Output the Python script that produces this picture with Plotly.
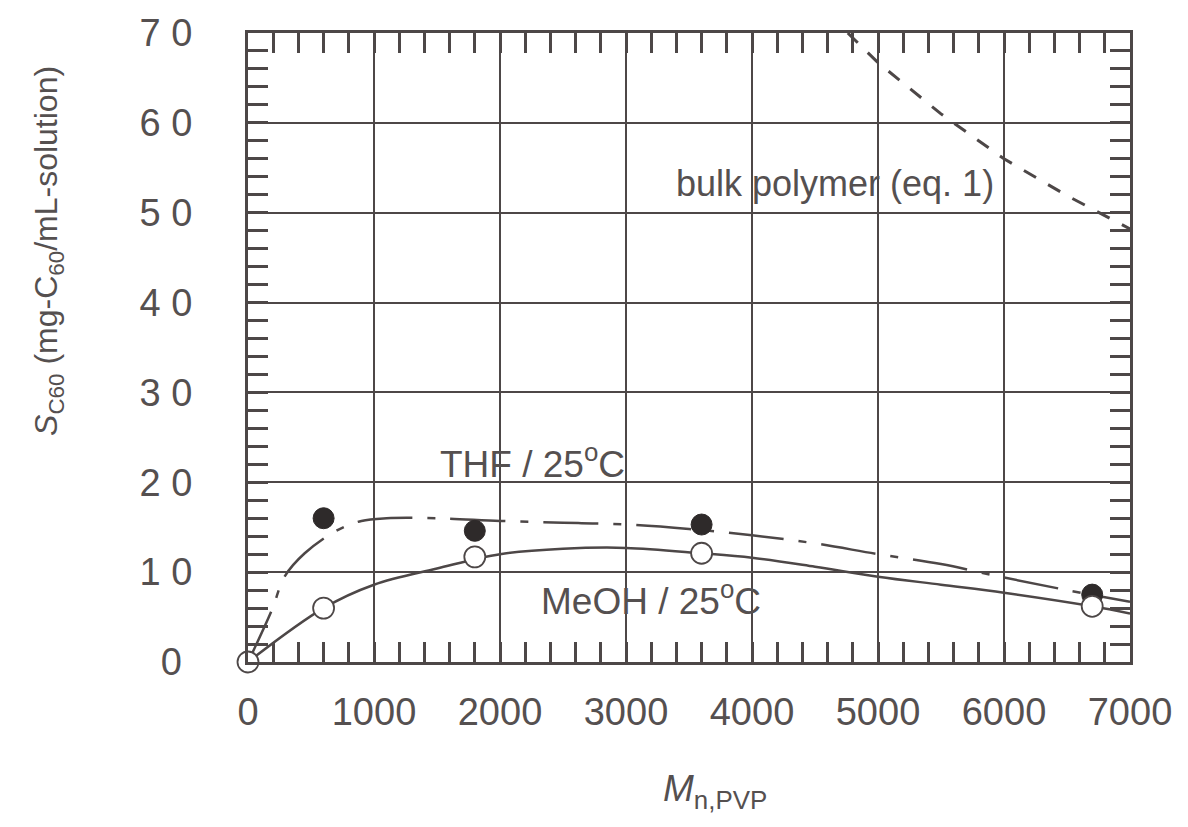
import plotly.graph_objects as go

# measured points
mn_pvp = [0, 600, 1800, 3600, 6700]
s_thf = [None, 16.0, 14.6, 15.3, 7.5]
s_meoh = [0, 6.0, 11.7, 12.1, 6.2]

# hand-drawn guide curves
meoh_curve_x = [0, 600, 1000, 1500, 2000, 2500, 3000, 3600, 4000, 4500, 5000, 5500, 6000, 6700, 7000]
meoh_curve_y = [0, 6.0, 8.6, 10.4, 12.0, 12.6, 12.7, 12.1, 11.6, 10.6, 9.5, 8.6, 7.7, 6.2, 5.4]

thf_curve_x = [0, 190, 290, 450, 700, 900, 1100, 1500, 2000, 2500, 3000, 3500, 4000, 4500, 5000, 5500, 6000, 6500, 7000]
thf_curve_y = [0, 5.8, 9.5, 12.1, 14.6, 15.7, 16.0, 16.0, 15.7, 15.5, 15.3, 14.8, 14.1, 13.2, 12.0, 10.9, 9.4, 8.0, 6.7]

bulk_x = [4760, 5000, 5500, 6000, 6500, 7000]
bulk_y = [70.0, 66.7, 61.0, 56.0, 51.9, 48.2]

y_ticks = [0, 10, 20, 30, 40, 50, 60, 70]
y_ticktext = ["0\u00a0", "1 0", "2 0", "3 0", "4 0", "5 0", "6 0", "7 0"]
x_ticks = [0, 1000, 2000, 3000, 4000, 5000, 6000, 7000]

INK = "#4d4747"
TXT = "#555050"
FONT = "Liberation Sans, Arial, sans-serif"

fig = go.Figure()

fig.add_trace(go.Scatter(
    x=bulk_x, y=bulk_y, mode="lines",
    line=dict(color=INK, width=3, dash="14px,14px"),
    showlegend=False,
))
fig.add_trace(go.Scatter(
    x=thf_curve_x, y=thf_curve_y, mode="lines",
    line=dict(color=INK, width=2.5, shape="spline", dash="55px,15px,8px,15px"),
    showlegend=False,
))
fig.add_trace(go.Scatter(
    x=meoh_curve_x, y=meoh_curve_y, mode="lines",
    line=dict(color=INK, width=2.5, shape="spline"),
    showlegend=False,
))
fig.add_trace(go.Scatter(
    x=mn_pvp, y=s_thf, mode="markers",
    marker=dict(size=21, color="#2e2a2a", line=dict(color="#2e2a2a", width=1)),
    cliponaxis=False, showlegend=False,
))
fig.add_trace(go.Scatter(
    x=mn_pvp, y=s_meoh, mode="markers",
    marker=dict(size=21, color="white", line=dict(color=INK, width=1.8)),
    cliponaxis=False, showlegend=False,
))

fig.add_annotation(x=2257, y=22.3, text="THF / 25<sup>o</sup>C", showarrow=False,
                   font=dict(size=37, color=TXT))
fig.add_annotation(x=3199, y=7.1, text="MeOH / 25<sup>o</sup>C", showarrow=False,
                   font=dict(size=37, color=TXT))
fig.add_annotation(x=4660, y=53.2, text="bulk polymer (eq. 1)", showarrow=False,
                   font=dict(size=36, color=TXT))

# axis titles placed as in the original (not centred on the plot)
fig.add_annotation(xref="paper", yref="paper", x=0.53, y=-0.205,
                   xanchor="center", yanchor="middle",
                   text="<i>M</i><sub>n,PVP</sub>", showarrow=False,
                   font=dict(size=37, color=TXT))
fig.add_annotation(xref="paper", yref="paper", x=-0.226, y=0.653, textangle=-90,
                   xanchor="center", yanchor="middle",
                   text="<i>S</i><sub>C60</sub> (mg-C<sub>60</sub>/mL-solution)",
                   showarrow=False, font=dict(size=32, color=TXT))

fig.update_xaxes(
    range=[0, 7000], tickvals=x_ticks, ticks="inside", ticklen=20, tickwidth=2.5,
    tickcolor=INK, showgrid=True, gridcolor=INK, gridwidth=2,
    showline=True, linecolor=INK, linewidth=3, mirror="allticks", zeroline=False,
    minor=dict(dtick=200, ticks="inside", ticklen=20, tickwidth=2.5, tickcolor=INK, showgrid=False),
    tickfont=dict(size=38, color=TXT), ticklabelstandoff=14, automargin=False,
)
fig.update_yaxes(
    range=[0, 70], tickvals=y_ticks, ticktext=y_ticktext, ticks="inside", ticklen=20,
    tickwidth=2.5, tickcolor=INK, showgrid=True, gridcolor=INK, gridwidth=2,
    showline=True, linecolor=INK, linewidth=3, mirror="allticks", zeroline=False,
    minor=dict(dtick=2, ticks="inside", ticklen=20, tickwidth=2.5, tickcolor=INK, showgrid=False),
    tickfont=dict(size=38, color=TXT), ticklabelstandoff=45, automargin=False,
)

# the page body adds an 8px offset, so the figure is trimmed to fit
fig.update_layout(
    width=1180, height=819,
    margin=dict(l=240, r=58, t=25, b=165),
    plot_bgcolor="white", paper_bgcolor="white",
    font=dict(family=FONT, color=TXT),
)

fig.write_html("out.html")
